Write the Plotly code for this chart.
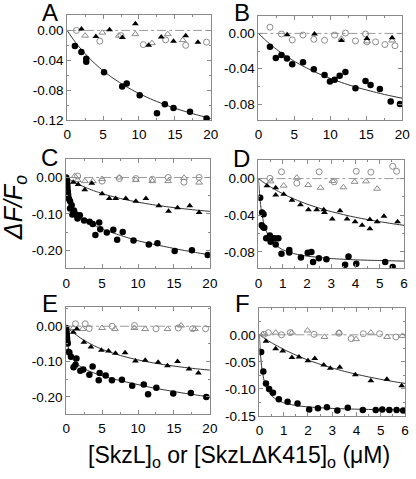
import plotly.graph_objects as go

W, H = 416, 479

# ---------------- data ----------------
# Panel A
A_fc_x = [1.08, 1.98, 2.66, 2.66, 5.14, 7.66, 8.29, 10.1, 12.5, 13.6, 14.8, 17.1, 19.4]
A_fc_y = [-0.021, -0.029, -0.038, -0.042, -0.056, -0.075, -0.071, -0.087, -0.111, -0.099, -0.104, -0.109, -0.118]
A_ft_x = [2.0, 4.0, 5.9, 7.7, 9.5, 11.35, 13.1, 14.8, 16.5, 18.2]
A_ft_y = [0.002, -0.008, 0.001, -0.0096, 0.009, -0.020, -0.0087, -0.0144, -0.007, -0.016]
A_oc_x = [1.3, 4.55, 7.5, 10.6, 13.7, 16.5, 19.4]
A_oc_y = [0.000, -0.0144, -0.007, -0.019, -0.0127, -0.020, -0.0157]
A_ot_x = [2.5, 4.9, 7.2, 9.5, 11.8, 14.0, 16.1]
A_ot_y = [-0.007, -0.003, -0.007, -0.005, -0.017, -0.005, -0.013]
A_fit_x = [0, 1, 2, 3, 4, 5, 6, 8, 10, 12, 14, 16, 18, 20]
A_fit_y = [0, -0.0139, -0.0259, -0.0364, -0.0457, -0.054, -0.0614, -0.0741, -0.0846, -0.0934, -0.1009, -0.1074, -0.113, -0.118]

# Panel B
B_fc_x = [1.6, 2.42, 3.2, 3.97, 4.7, 6.2, 7.7, 9.2, 9.95, 10.6, 11.3, 12.1, 13.5, 14.9, 15.6, 16.9, 18.4, 19.7]
B_fc_y = [-0.0152, -0.0278, -0.0244, -0.0285, -0.0348, -0.0326, -0.0407, -0.047, -0.0544, -0.0526, -0.048, -0.0437, -0.062, -0.054, -0.0585, -0.063, -0.077, -0.080]
B_ft_x = [4.0, 7.8, 11.55, 15.1, 18.6]
B_ft_y = [-0.0015, -0.0007, -0.0081, -0.0059, -0.0048]
B_oc_x = [1.6, 3.2, 4.7, 6.2, 7.7, 9.2, 10.6, 12.1, 13.5, 14.9, 15.1, 16.3, 17.6, 19.0]
B_oc_y = [0.007, -0.0007, -0.0074, -0.0019, -0.0067, -0.0078, -0.0019, 0.0004, -0.0085, -0.0007, -0.0096, -0.0096, -0.0126, -0.014]
B_ot_x = [11.55, 15.1, 18.6]
B_ot_y = [-0.006, -0.009, -0.008]
B_fit_x = [0, 1, 2, 3, 4, 5, 6, 8, 10, 12, 14, 16, 18, 20]
B_fit_y = [0, -0.0078, -0.0148, -0.021, -0.0266, -0.0316, -0.0362, -0.0442, -0.051, -0.0568, -0.0618, -0.0661, -0.070, -0.0734]

# Panel C
C_fc_x = [0, 0.09, 0.14, 0.16, 0.18, 0.23, 0.27, 0.32, 0.4, 0.54, 0.54, 0.77, 0.86, 1.09, 1.22, 1.45, 1.58, 1.76, 1.9,
          2.5, 3.26, 3.7, 4.07, 4.6, 4.75, 5.66, 6.56, 7.1, 7.87, 9.37, 11.5, 12.7, 15.1, 17.5, 19.7]
C_fc_y = [0, -0.007, -0.014, -0.021, -0.028, -0.038, -0.047, -0.056, -0.060, -0.065, -0.085, -0.076, -0.102, -0.091, -0.100, -0.103, -0.113, -0.107, -0.104,
          -0.118, -0.122, -0.128, -0.158, -0.124, -0.142, -0.151, -0.144, -0.171, -0.150, -0.173, -0.184, -0.181, -0.202, -0.200, -0.213]
C_ft_x = [1.0, 1.67, 2.58, 3.57, 5.0, 6.0, 6.9, 8.3, 9.7, 11.1, 12.9, 14.25, 15.5, 17.2, 18.5]
C_ft_y = [-0.013, -0.019, -0.034, -0.016, -0.045, -0.058, -0.058, -0.058, -0.065, -0.058, -0.078, -0.093, -0.083, -0.078, -0.096]
C_oc_x = [1.6, 5.0, 7.4, 9.7, 12.0, 14.2, 16.4, 18.5]
C_oc_y = [0.004, -0.010, -0.003, -0.003, -0.005, 0.0, -0.013, 0.0]
C_ot_x = [1.2, 1.6, 2.6, 3.7, 5.0, 7.4, 9.7, 12.0, 14.2, 16.4, 18.5]
C_ot_y = [0.004, -0.007, -0.010, -0.010, -0.004, 0.0, -0.007, -0.010, -0.010, -0.001, -0.014]
C_fit1_x = [0, 0.1, 0.25, 0.5, 0.75, 1, 1.5, 2, 3, 4, 5, 6, 8, 10, 12, 14, 16, 18, 20]
C_fit1_y = [0, -0.020, -0.042, -0.064, -0.078, -0.087, -0.099, -0.108, -0.121, -0.132, -0.142, -0.149, -0.162, -0.174, -0.183, -0.191, -0.199, -0.206, -0.213]
C_fit2_x = [0, 1, 2, 3, 4, 5, 6, 8, 10, 12, 14, 16, 18, 20]
C_fit2_y = [0, -0.0116, -0.0214, -0.030, -0.0375, -0.044, -0.0499, -0.0598, -0.0679, -0.0746, -0.0803, -0.0852, -0.0894, -0.0931]

# Panel D
D_fc_x = [0.07, 0.15, 0.21, 0.13, 0.2, 0.24, 0.32, 0.47, 0.5, 0.58, 0.67, 0.71, 0.82, 0.95, 1.27, 1.27, 1.75, 2.03, 2.18,
          2.25, 2.49, 2.8, 3.57, 3.71, 4.03, 5.22, 5.53]
D_fc_y = [-0.021, -0.037, -0.039, -0.051, -0.053, -0.0535, -0.065, -0.062, -0.069, -0.065, -0.065, -0.072, -0.065, -0.082, -0.078, -0.0805, -0.086, -0.081, -0.080,
          -0.091, -0.087, -0.088, -0.094, -0.085, -0.093, -0.091, -0.0965]
D_ft_x = [0.35, 0.71, 0.71, 1.04, 1.38, 1.73, 2.06, 2.4, 2.69, 2.72, 3.04, 3.36, 3.65, 3.98, 4.27, 4.59, 4.59, 4.89, 5.17, 5.73]
D_ft_y = [-0.0077, -0.010, -0.018, -0.017, -0.0236, -0.0285, -0.034, -0.034, -0.034, -0.037, -0.044, -0.035, -0.044, -0.047, -0.051, -0.0546, -0.0447, -0.047, -0.041, -0.047]
D_oc_x = [0.47, 0.95, 1.58, 2.5, 3.12, 4.03, 4.63, 5.53, 5.69]
D_oc_y = [0.0003, 0.0074, -0.005, 0.0074, -0.0035, 0.008, 0.007, 0.0134, 0.008]
D_ot_x = [0.5, 1.04, 1.58, 2.05, 2.56, 3.05, 3.5, 3.96, 4.43, 4.89]
D_ot_y = [-0.003, -0.0077, 0.001, -0.007, -0.010, -0.0025, -0.0095, -0.0035, -0.003, -0.011]
D_fit1_x = [0, 0.05, 0.1, 0.2, 0.3, 0.5, 0.75, 1, 1.5, 2, 3, 4, 5, 6]
D_fit1_y = [0, -0.0186, -0.031, -0.0465, -0.0558, -0.0664, -0.0734, -0.0775, -0.0821, -0.0845, -0.0872, -0.0886, -0.0894, -0.090]
D_fit2_x = [0, 0.25, 0.5, 1, 1.5, 2, 2.5, 3, 3.5, 4, 4.5, 5, 5.5, 6]
D_fit2_y = [0, -0.0048, -0.0091, -0.0165, -0.0226, -0.0278, -0.0322, -0.036, -0.0393, -0.0422, -0.0447, -0.047, -0.0491, -0.051]

# Panel E
E_fc_x = [0, 0.04, 0.09, 0.13, 0.15, 0.22, 0.31, 0.45, 0.67, 1.03, 1.3, 1.43, 1.97, 2.38, 3.23, 3.68, 4.53, 4.66, 5.5, 6.37,
          7.76, 9.19, 10.8, 11.4, 12.55, 14.9, 17.35, 19.5]
E_fc_y = [-0.005, -0.014, -0.023, -0.033, -0.042, -0.049, -0.072, -0.074, -0.086, -0.116, -0.109, -0.091, -0.126, -0.122, -0.137, -0.114, -0.153, -0.132, -0.139, -0.153,
          -0.151, -0.168, -0.165, -0.192, -0.174, -0.190, -0.189, -0.200]
E_ft_x = [1.0, 1.5, 2.47, 3.45, 4.9, 5.9, 6.86, 8.2, 9.64, 11.0, 12.8, 14.1, 15.5, 17.1, 18.4]
E_ft_y = [-0.017, -0.008, -0.045, -0.059, -0.068, -0.070, -0.076, -0.075, -0.098, -0.096, -0.102, -0.112, -0.100, -0.121, -0.132]
E_oc_x = [1.3, 2.65, 3.2, 6.4, 9.5, 12.5, 15.6, 17.6, 19.4]
E_oc_y = [0.007, 0.007, -0.0065, 0.0, 0.002, -0.007, -0.005, -0.007, -0.007]
E_ot_x = [1.0, 2.3, 5.0, 6.8, 9.5, 11.0, 14.1, 16.0, 17.9]
E_ot_y = [-0.005, -0.008, -0.005, -0.008, -0.005, -0.008, -0.008, 0.002, -0.008]
E_fit1_x = [0, 0.1, 0.25, 0.5, 1, 1.5, 2, 3, 4, 5, 6, 8, 10, 12, 14, 16, 18, 20]
E_fit1_y = [0, -0.030, -0.055, -0.075, -0.095, -0.106, -0.114, -0.125, -0.133, -0.140, -0.146, -0.156, -0.165, -0.174, -0.181, -0.188, -0.194, -0.200]
E_fit2_x = [0, 0.5, 1, 2, 3, 4, 5, 6, 8, 10, 12, 14, 16, 18, 20]
E_fit2_y = [0, -0.0097, -0.0184, -0.0333, -0.0456, -0.0561, -0.065, -0.0727, -0.0853, -0.0952, -0.1032, -0.1097, -0.1153, -0.120, -0.124]

# Panel F
F_fc_x = [0.07, 0.16, 0.27, 0.4, 0.56, 0.8, 1.16, 1.57, 2.05, 2.41, 2.78, 3.21, 3.64, 4.26, 4.79, 5.06, 5.35, 5.65, 5.92]
F_fc_y = [-0.032, -0.068, -0.090, -0.100, -0.107, -0.119, -0.124, -0.127, -0.138, -0.136, -0.134, -0.140, -0.135, -0.139, -0.139, -0.138, -0.139, -0.139, -0.140]
F_ft_x = [0.27, 0.67, 0.96, 1.34, 1.63, 2.0, 2.28, 2.65, 2.92, 3.31, 3.95, 4.59, 5.25, 5.86]
F_ft_y = [-0.012, -0.026, -0.030, -0.042, -0.041, -0.048, -0.044, -0.056, -0.062, -0.060, -0.074, -0.085, -0.082, -0.094]
F_oc_x = [0.2, 0.37, 0.91, 1.27, 2.25, 3.28, 3.78, 4.28, 4.95, 5.62]
F_oc_y = [0.001, 0.004, 0.0, 0.004, 0.001, 0.003, -0.007, 0.002, 0.002, -0.004]
F_ot_x = [0.13, 0.67, 1.34, 1.98, 2.68, 3.28, 3.98, 4.59, 5.26, 5.89]
F_ot_y = [0.001, 0.004, 0.004, 0.008, -0.004, 0.004, -0.008, 0.004, -0.004, -0.002]
F_fit1_x = [0, 0.025, 0.05, 0.1, 0.2, 0.3, 0.5, 0.75, 1, 1.5, 2, 3, 4, 5, 6]
F_fit1_y = [0, -0.0229, -0.0394, -0.0617, -0.0861, -0.0991, -0.1127, -0.121, -0.1257, -0.1307, -0.1333, -0.1361, -0.1375, -0.1384, -0.139]
F_fit2_x = [0, 0.25, 0.5, 1, 1.5, 2, 2.5, 3, 3.5, 4, 4.5, 5, 5.5, 6]
F_fit2_y = [0, -0.0077, -0.0147, -0.027, -0.0375, -0.0466, -0.0545, -0.0614, -0.0675, -0.073, -0.0779, -0.0823, -0.0863, -0.0899]

panel_labels = ["A", "B", "C", "D", "E", "F"]
x_title = "[SkzL]<sub>o</sub> or [SkzLΔK415]<sub>o</sub> (μM)"
y_title = "<i>ΔF/F<sub>o</sub></i>"

xt20 = [0, 5, 10, 15, 20]
xt6 = [0, 1, 2, 3, 4, 5, 6]
yt_A = [0.0, -0.04, -0.08, -0.12]
yt_A_txt = ["0.00", "-0.04", "-0.08", "-0.12"]
yt_B = [0.0, -0.04, -0.08]
yt_B_txt = ["0.00", "-0.04", "-0.08"]
yt_C = [0.0, -0.10, -0.20]
yt_C_txt = ["0.00", "-0.10", "-0.20"]
yt_F = [0.0, -0.05, -0.10, -0.15]
yt_F_txt = ["0.00", "-0.05", "-0.10", "-0.15"]

# ---------------- layout geometry (pixels) ----------------
boxes = {
    1: (65, 213, 15, 122),
    2: (262, 410, 16, 122),
    3: (64, 212, 162, 273),
    4: (262, 412, 163, 273),
    5: (64, 212, 312, 421),
    6: (263, 413, 313, 423),
}
# centre of each panel letter (pixels)
label_pos = {1: (47, 13), 2: (245, 13), 3: (47, 160), 4: (245, 161), 5: (47, 309), 6: (246, 309)}

panels = {
    1: dict(fc=(A_fc_x, A_fc_y), ft=(A_ft_x, A_ft_y), oc=(A_oc_x, A_oc_y), ot=(A_ot_x, A_ot_y),
            fits=[(A_fit_x, A_fit_y)], xr=[0, 20], xt=xt20, xm=2.5, yr=[-0.12, 0.021], yt=(yt_A, yt_A_txt), ym=0.02),
    2: dict(fc=(B_fc_x, B_fc_y), ft=(B_ft_x, B_ft_y), oc=(B_oc_x, B_oc_y), ot=(B_ot_x, B_ot_y),
            fits=[(B_fit_x, B_fit_y)], xr=[0, 20], xt=xt20, xm=2.5, yr=[-0.098, 0.02], yt=(yt_B, yt_B_txt), ym=0.02),
    3: dict(fc=(C_fc_x, C_fc_y), ft=(C_ft_x, C_ft_y), oc=(C_oc_x, C_oc_y), ot=(C_ot_x, C_ot_y),
            fits=[(C_fit1_x, C_fit1_y), (C_fit2_x, C_fit2_y)], xr=[0, 20], xt=xt20, xm=2.5, yr=[-0.25, 0.05], yt=(yt_C, yt_C_txt), ym=0.05),
    4: dict(fc=(D_fc_x, D_fc_y), ft=(D_ft_x, D_ft_y), oc=(D_oc_x, D_oc_y), ot=(D_ot_x, D_ot_y),
            fits=[(D_fit1_x, D_fit1_y), (D_fit2_x, D_fit2_y)], xr=[0, 6], xt=xt6, xm=0.5, yr=[-0.098, 0.02], yt=(yt_B, yt_B_txt), ym=0.02),
    5: dict(fc=(E_fc_x, E_fc_y), ft=(E_ft_x, E_ft_y), oc=(E_oc_x, E_oc_y), ot=(E_ot_x, E_ot_y),
            fits=[(E_fit1_x, E_fit1_y), (E_fit2_x, E_fit2_y)], xr=[0, 20], xt=xt20, xm=2.5, yr=[-0.248, 0.055], yt=(yt_C, yt_C_txt), ym=0.05),
    6: dict(fc=(F_fc_x, F_fc_y), ft=(F_ft_x, F_ft_y), oc=(F_oc_x, F_oc_y), ot=(F_ot_x, F_ot_y),
            fits=[(F_fit1_x, F_fit1_y), (F_fit2_x, F_fit2_y)], xr=[0, 6], xt=xt6, xm=0.5, yr=[-0.15, 0.05], yt=(yt_F, yt_F_txt), ym=0.025),
}

FONT = "Liberation Sans, Arial, sans-serif"
GREY = "#8a8a8a"
fig = go.Figure()
layout = dict(width=W, height=H, margin=dict(l=0, r=0, t=0, b=0), showlegend=False,
              plot_bgcolor="white", paper_bgcolor="white", font=dict(family=FONT, size=12, color="black"))
annotations = []
shapes = []

for i in range(1, 7):
    p = panels[i]
    x0, x1, y0, y1 = boxes[i]
    xa = "x" if i == 1 else f"x{i}"
    ya = "y" if i == 1 else f"y{i}"
    xkey = "xaxis" if i == 1 else f"xaxis{i}"
    ykey = "yaxis" if i == 1 else f"yaxis{i}"
    common = dict(showline=True, linecolor=GREY, linewidth=1, mirror="allticks", ticks="inside", ticklen=4,
                  tickcolor=GREY, showgrid=False, zeroline=False, tickfont=dict(size=13.5, family=FONT),
                  fixedrange=True)
    layout[xkey] = dict(domain=[x0 / W, x1 / W], anchor=ya, range=p["xr"], tickvals=p["xt"],
                        ticktext=[str(v) for v in p["xt"]], ticklabelstandoff=2,
                        minor=dict(dtick=p["xm"], tick0=0, ticks="inside", ticklen=2, tickcolor=GREY),
                        **common)
    layout[ykey] = dict(domain=[1 - y1 / H, 1 - y0 / H], anchor=xa, range=p["yr"], tickvals=p["yt"][0],
                        ticktext=p["yt"][1], ticklabelstandoff=0,
                        minor=dict(dtick=p["ym"], tick0=0, ticks="inside", ticklen=2, tickcolor=GREY),
                        **common)
    shapes.append(dict(type="line", xref=f"{xa} domain", yref=ya, x0=0, x1=1, y0=0, y1=0,
                       line=dict(color="#9a9a9a", width=1, dash="dashdot"), layer="below"))
    for fx, fy in p["fits"]:
        fig.add_trace(go.Scatter(x=fx, y=fy, mode="lines", line=dict(color="#333333", width=1, shape="spline", smoothing=0.6),
                                 xaxis=xa, yaxis=ya, hoverinfo="skip"))
    fig.add_trace(go.Scatter(x=p["oc"][0], y=p["oc"][1], mode="markers", xaxis=xa, yaxis=ya,
                             marker=dict(symbol="circle-open", size=6, color="#8c8c8c", line=dict(width=1))))
    fig.add_trace(go.Scatter(x=p["ot"][0], y=p["ot"][1], mode="markers", xaxis=xa, yaxis=ya,
                             marker=dict(symbol="triangle-up-open", size=6, color="#8c8c8c", line=dict(width=1))))
    fig.add_trace(go.Scatter(x=p["ft"][0], y=p["ft"][1], mode="markers", xaxis=xa, yaxis=ya,
                             marker=dict(symbol="triangle-up", size=6, color="black")))
    fig.add_trace(go.Scatter(x=p["fc"][0], y=p["fc"][1], mode="markers", xaxis=xa, yaxis=ya,
                             marker=dict(symbol="circle", size=6.5, color="black")))
    lx, ly = label_pos[i]
    annotations.append(dict(text=panel_labels[i - 1], xref="paper", yref="paper", x=lx / W, y=1 - ly / H,
                            xanchor="center", yanchor="middle", showarrow=False, font=dict(size=24, family=FONT)))

annotations.append(dict(text=x_title, xref="paper", yref="paper", x=242 / W, y=1 - 464 / H, xanchor="center",
                        yanchor="middle", showarrow=False, font=dict(size=23, family=FONT)))
annotations.append(dict(text=y_title, xref="paper", yref="paper", x=12 / W, y=1 - 211 / H, xanchor="center",
                        yanchor="middle", showarrow=False, textangle=-90, font=dict(size=25, family=FONT)))
layout["annotations"] = annotations
layout["shapes"] = shapes
fig.update_layout(**layout)
fig.write_html("out.html", config={"displayModeBar": False},
               post_script="document.body.style.margin='0';document.body.style.overflow='hidden';")
